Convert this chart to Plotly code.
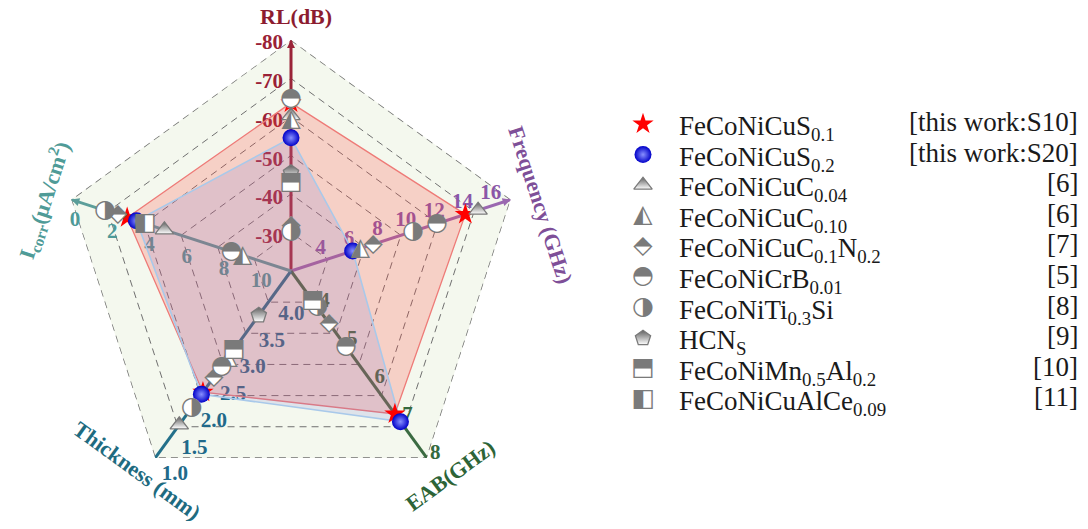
import plotly.graph_objects as go

FIG_W, FIG_H = 1088, 529

# ---------------- data ----------------
AXES = ["RL", "Frequency", "EAB", "Thickness", "Icorr"]          # clockwise from top
AXIS_CENTER = [-21.5, 1.9, 3.2, 4.5, 11.6]                        # value at centre
AXIS_OUTER = [-81.0, 17.4, 8.1, 1.0, -0.2]                        # value at outer pentagon

RL_TICKS = [-80, -70, -60, -50, -40, -30]
FREQ_TICKS = [4, 6, 8, 10, 12, 14, 16]
EAB_TICKS = [4, 5, 6, 7, 8]
THICK_TICKS = [4.0, 3.5, 3.0, 2.5, 2.0, 1.5, 1.0]
ICORR_TICKS = [0, 2, 4, 6, 8, 10]

SERIES_NAMES = [
    "FeCoNiCuS<sub>0.1</sub>",
    "FeCoNiCuS<sub>0.2</sub>",
    "FeCoNiCuC<sub>0.04</sub>",
    "FeCoNiCuC<sub>0.10</sub>",
    "FeCoNiCuC<sub>0.1</sub>N<sub>0.2</sub>",
    "FeCoNiCrB<sub>0.01</sub>",
    "FeCoNiTi<sub>0.3</sub>Si",
    "HCN<sub>S</sub>",
    "FeCoNiMn<sub>0.5</sub>Al<sub>0.2</sub>",
    "FeCoNiCuAlCe<sub>0.09</sub>",
]
SERIES_REFS = ["[this work:S10]", "[this work:S20]", "[6]", "[6]", "[7]",
               "[5]", "[8]", "[9]", "[10]", "[11]"]

# values: RL, Frequency, EAB, Thickness, Icorr  (None = not shown)
S10 = [-64.8, 14.2, 6.95, 2.23, 2.8]
S20 = [-55.8, 6.25, 7.15, 2.19, 3.3]
C004 = [-61.5, 15.1, None, 1.62, 4.8]
C010 = [-60.5, 6.8, None, 2.88, 9.0]
C01N02 = [-33.2, 7.7, 4.58, 2.51, 2.3]
CRB001 = [-65.8, 12.2, 5.18, 2.71, 8.4]
TI03SI = [-31.5, 10.5, 4.15, 1.94, 1.6]
HCNS = [-46.8, None, None, 3.67, None]
MN05AL02 = [-44.2, None, 3.99, 3.03, None]
ALCE009 = [None, None, None, None, 3.75]
SERIES_VALUES = [S10, S20, C004, C010, C01N02, CRB001, TI03SI, HCNS, MN05AL02, ALCE009]

# ---------------- styles ----------------
SERIF = "Liberation Serif"
GLYPH_FONT = "DejaVu Sans"
GRAY = "#7a7a7a"
AXIS_LINE_COLORS = ["#9a2438", "#9a68b0", "#3b6b42", "#23708a", "#5c9e9a"]
AXIS_LABEL_COLORS = ["#9a2236", "#8a56a8", "#356a3e", "#21698a", "#4e9a98"]
AXIS_TITLE_COLORS = ["#8c1c30", "#7e4f98", "#2d6437", "#1e6b80", "#4f9b97"]
ARROW_AXES = [True, True, False, False, True]
ARROW_ANGLE = [0, 72, 144, 216, 288]

# tick-label placement per axis: (textposition, invisible marker size)
TICK_POS = [("middle left", 11), ("top center", 2), ("middle right", 8),
            ("bottom right", 9), ("bottom center", 14)]

GLYPH_BACK = {3: "\u25B2", 4: "\u25C6", 5: "\u25CF", 6: "\u25CF", 8: "\u25A0", 9: "\u25A0"}
GLYPH_FRONT = {3: "\u25ED", 4: "\u2B18", 5: "\u25D3", 6: "\u25D1", 8: "\u2B12", 9: "\u25E7"}
GRADIENT_MARKERS = {2: "triangle-up", 7: "pentagon"}
GLYPH_SIZE = 25


def norm(i, v):
    return (v - AXIS_CENTER[i]) / (AXIS_OUTER[i] - AXIS_CENTER[i])


fig = go.Figure()

GRID_COLOR = "#707070"
GRID_DASH = "7px,5px"
GRID_W = 1.4

# outer dashed pentagon
fig.add_trace(go.Scatterpolar(
    r=[1] * (len(AXES) + 1), theta=AXES + AXES[:1], mode="lines",
    line=dict(color=GRID_COLOR, width=GRID_W, dash=GRID_DASH),
    hoverinfo="skip", showlegend=False, cliponaxis=False))

# coloured axis lines + arrows
for i, ax in enumerate(AXES):
    fig.add_trace(go.Scatterpolar(
        r=[0, 1], theta=[ax, ax], mode="lines",
        line=dict(color=AXIS_LINE_COLORS[i], width=3),
        hoverinfo="skip", showlegend=False, cliponaxis=False))
    if ARROW_AXES[i]:
        fig.add_trace(go.Scatterpolar(
            r=[1], theta=[ax], mode="markers",
            marker=dict(symbol="arrow-up", size=8, angle=ARROW_ANGLE[i],
                        color=AXIS_LINE_COLORS[i]),
            hoverinfo="skip", showlegend=False, cliponaxis=False))

# tick labels
TICKS = [RL_TICKS, FREQ_TICKS, EAB_TICKS, THICK_TICKS, ICORR_TICKS]
for i, ax in enumerate(AXES):
    ticks = TICKS[i]
    labels = [f"{t:.1f}" if AXES[i] == "Thickness" else str(t) for t in ticks]
    pos, msize = TICK_POS[i]
    fig.add_trace(go.Scatterpolar(
        r=[norm(i, t) for t in ticks], theta=[ax] * len(ticks),
        mode="markers+text", text=labels, textposition=pos,
        marker=dict(size=msize, color="rgba(0,0,0,0)"),
        textfont=dict(family=SERIF, size=21, color=AXIS_LABEL_COLORS[i], weight="bold"),
        hoverinfo="skip", showlegend=False, cliponaxis=False))

# polygons for this work
POLY_STYLE = [("rgba(255,70,60,0.22)", "#ee7b78", 1.3), ("rgba(110,120,215,0.16)", "#a9c9ea", 1.6)]
for k in range(2):
    vals = SERIES_VALUES[k]
    fig.add_trace(go.Scatterpolar(
        r=[norm(i, v) for i, v in enumerate(vals)] + [norm(0, vals[0])],
        theta=AXES + AXES[:1], mode="lines", fill="toself",
        fillcolor=POLY_STYLE[k][0], line=dict(color=POLY_STYLE[k][1], width=POLY_STYLE[k][2]),
        hoverinfo="skip", showlegend=False))


def pts(vals):
    rr, tt = [], []
    for i, v in enumerate(vals):
        if v is not None:
            rr.append(norm(i, v))
            tt.append(AXES[i])
    return rr, tt


STAR_MARKER = dict(symbol="star", size=16, color="#ff0000", line=dict(width=0))
SPHERE_MARKER = dict(symbol="circle", size=17, color="#0000c8",
                     gradient=dict(type="radial", color="#8890ff"), line=dict(width=0))


def grad_marker(sym):
    return dict(symbol=sym, size=16, color="#5e5e5e",
                gradient=dict(type="vertical", color="white"),
                line=dict(color=GRAY, width=1.3))


r, t = pts(S10)
fig.add_trace(go.Scatterpolar(r=r, theta=t, mode="markers", marker=STAR_MARKER,
                              showlegend=False, cliponaxis=False))
r, t = pts(S20)
fig.add_trace(go.Scatterpolar(r=r, theta=t, mode="markers", marker=SPHERE_MARKER,
                              showlegend=False, cliponaxis=False))

for k in range(2, len(SERIES_VALUES)):
    r, t = pts(SERIES_VALUES[k])
    if not r:
        continue
    if k in GRADIENT_MARKERS:
        fig.add_trace(go.Scatterpolar(
            r=r, theta=t, mode="markers", marker=grad_marker(GRADIENT_MARKERS[k]),
            showlegend=False, cliponaxis=False))
    else:
        fig.add_trace(go.Scatterpolar(
            r=r, theta=t, mode="text", text=[GLYPH_BACK[k]] * len(r),
            textfont=dict(family=GLYPH_FONT, size=GLYPH_SIZE - 2, color="white"),
            showlegend=False, cliponaxis=False))
        fig.add_trace(go.Scatterpolar(
            r=r, theta=t, mode="text", text=[GLYPH_FRONT[k]] * len(r),
            textfont=dict(family=GLYPH_FONT, size=GLYPH_SIZE, color=GRAY),
            showlegend=False, cliponaxis=False))

# ---------------- legend (cartesian helper axes, pixel units) ----------------
LEG_SYM_X = 643
LEG_TEXT_X = 677
LEG_REF_X = 1080
ROW0 = 124
ROW_DY = 30.6
rows = [ROW0 + ROW_DY * k for k in range(len(SERIES_NAMES))]

fig.add_trace(go.Scatter(x=[LEG_SYM_X], y=[rows[0]], mode="markers", marker=STAR_MARKER,
                         showlegend=False, hoverinfo="skip"))
fig.add_trace(go.Scatter(x=[LEG_SYM_X], y=[rows[1]], mode="markers", marker=SPHERE_MARKER,
                         showlegend=False, hoverinfo="skip"))
for k in range(2, len(SERIES_NAMES)):
    if k in GRADIENT_MARKERS:
        fig.add_trace(go.Scatter(
            x=[LEG_SYM_X], y=[rows[k]], mode="markers", marker=grad_marker(GRADIENT_MARKERS[k]),
            showlegend=False, hoverinfo="skip"))
    else:
        fig.add_trace(go.Scatter(
            x=[LEG_SYM_X], y=[rows[k]], mode="text", text=[GLYPH_BACK[k]],
            textfont=dict(family=GLYPH_FONT, size=GLYPH_SIZE - 2, color="white"),
            showlegend=False, hoverinfo="skip"))
        fig.add_trace(go.Scatter(
            x=[LEG_SYM_X], y=[rows[k]], mode="text", text=[GLYPH_FRONT[k]],
            textfont=dict(family=GLYPH_FONT, size=GLYPH_SIZE, color=GRAY),
            showlegend=False, hoverinfo="skip"))

annotations = []
for k, (name, ref) in enumerate(zip(SERIES_NAMES, SERIES_REFS)):
    annotations.append(dict(x=LEG_TEXT_X, y=rows[k] + 4, xref="x", yref="y", text=name,
                            showarrow=False, xanchor="left", yanchor="middle",
                            font=dict(family=SERIF, size=27, color="#1a1a1a")))
    annotations.append(dict(x=LEG_REF_X, y=rows[k] - 2, xref="x", yref="y", text=ref,
                            showarrow=False, xanchor="right", yanchor="middle",
                            font=dict(family=SERIF, size=27, color="#1a1a1a")))

# axis titles
TITLES = [
    ("RL(dB)", 296, 17, 0),
    ("Frequency (GHz)", 540, 205, 72),
    ("EAB(GHz)", 450, 475, -36),
    ("Thickness (mm)", 137, 470, 36),
    ("I<sub>corr</sub>(\u03bcA/cm<sup>2</sup>)", 44, 200, -72),
]
for i, (txt, px, py, ang) in enumerate(TITLES):
    annotations.append(dict(x=px / FIG_W, y=1 - py / FIG_H, xref="paper", yref="paper",
                            text=f"<b>{txt}</b>", textangle=ang, showarrow=False,
                            xanchor="center", yanchor="middle",
                            font=dict(family=SERIF, size=22, color=AXIS_TITLE_COLORS[i])))

# ---------------- layout ----------------
CX, CY, RAD = 291, 271, 231
fig.update_layout(
    width=FIG_W, height=FIG_H,
    margin=dict(l=0, r=0, t=0, b=0),
    paper_bgcolor="white", plot_bgcolor="white",
    showlegend=False,
    polar=dict(
        domain=dict(x=[(CX - RAD) / FIG_W, (CX + RAD) / FIG_W],
                    y=[1 - (CY + RAD) / FIG_H, 1 - (CY - RAD) / FIG_H]),
        gridshape="linear",
        bgcolor="#f4f8ee",
        radialaxis=dict(range=[0, 1], tickvals=[k / 6 for k in range(1, 6)],
                        showticklabels=False, ticks="", showline=False,
                        gridcolor=GRID_COLOR, gridwidth=GRID_W, griddash=GRID_DASH),
        angularaxis=dict(type="category", categoryorder="array", categoryarray=AXES,
                         rotation=90, direction="clockwise", showgrid=False,
                         showline=False, showticklabels=False, ticks=""),
    ),
    xaxis=dict(domain=[0.56, 1.0], range=[0.56 * FIG_W, FIG_W], visible=False, fixedrange=True),
    yaxis=dict(domain=[0, 1], range=[FIG_H, 0], visible=False, fixedrange=True),
    annotations=annotations,
)

fig.write_html("out.html", config={"displayModeBar": False},
               post_script="document.body.style.margin='0';")
